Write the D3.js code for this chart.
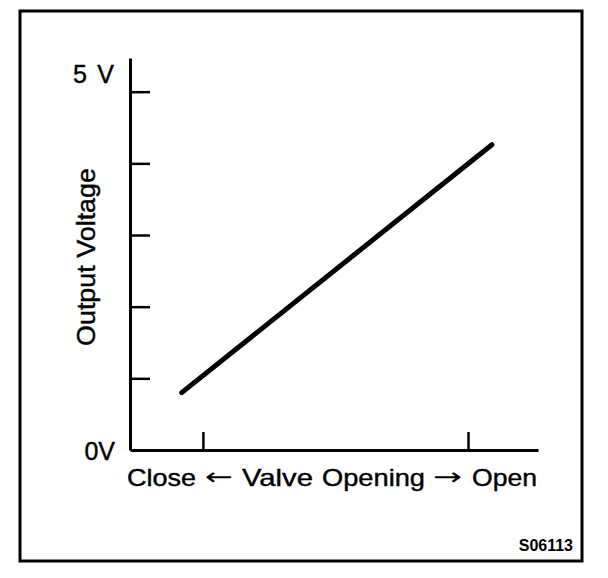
<!DOCTYPE html>
<html>
<head>
<meta charset="utf-8"/>
<title>Output Voltage vs Valve Opening</title>
<script src="https://d3js.org/d3.v7.min.js"></script>
<style>
  body { margin: 0; background: #fff; }
  text { font-family: "Liberation Sans", Arial, sans-serif; fill: #000; }
  .lbl { stroke: #000; stroke-width: 0.4; }
  .arrow { font-family: "DejaVu Sans", sans-serif; }
</style>
</head>
<body>
<div id="chart"></div>
<script>
    // valve opening in %, 0 = fully closed tick, 100 = fully open tick
    var openingPct = [-8, 109];
    var outputVolts = [0.8, 4.26];
    var yTickValues = [1, 2, 3, 4, 5];
    var xTickValues = [0, 100];
    var yEndLabels = ["0V", "5 V"];
    var xLabelParts = ["Close", "\u2190", "Valve", "Opening", "\u2192", "Open"];
    var yLabel = "Output Voltage";
    var figCode = "S06113";

    var W = 608, H = 578;

    var svg = d3.select("#chart")
        .append("svg")
        .attr("width", W)
        .attr("height", H);

    // outer frame
    svg.append("rect")
        .attr("x", 20).attr("y", 11)
        .attr("width", 562).attr("height", 550)
        .attr("fill", "none")
        .attr("stroke", "#000")
        .attr("stroke-width", 3);

    var x = d3.scaleLinear()
        .domain([-27.5, 126.4])
        .range([130, 538]);

    var y = d3.scaleLinear()
        .domain([0, 5.47])
        .range([450, 58]);

    // Y axis (ticks pointing into the plot)
    var yAxis = svg.append("g")
        .attr("transform", "translate(" + x(-27.5) + ",0)")
        .call(d3.axisRight(y).tickValues(yTickValues).tickSize(20).tickSizeOuter(0).tickFormat(""));
    yAxis.select(".domain").attr("stroke-width", 3);
    yAxis.selectAll(".tick line").attr("stroke-width", 2.5);

    // X axis (ticks pointing up)
    var xAxis = svg.append("g")
        .attr("transform", "translate(0," + y(0) + ")")
        .call(d3.axisTop(x).tickValues(xTickValues).tickSize(18).tickSizeOuter(0).tickFormat(""));
    xAxis.select(".domain").attr("stroke-width", 3);
    xAxis.selectAll(".tick line").attr("stroke-width", 2.5);

    // output line
    var pts = openingPct.map(function(d, i) { return [d, outputVolts[i]]; });
    svg.append("path")
        .datum(pts)
        .attr("fill", "none")
        .attr("stroke", "#000")
        .attr("stroke-width", 5)
        .attr("stroke-linecap", "round")
        .attr("d", d3.line()
            .x(function(d) { return x(d[0]); })
            .y(function(d) { return y(d[1]); }));

    // end labels on the voltage axis
    svg.append("text")
        .attr("class", "lbl")
        .attr("x", 115).attr("y", y(0) + 10)
        .attr("text-anchor", "end")
        .attr("font-size", 25)
        .text(yEndLabels[0]);
    svg.append("text")
        .attr("class", "lbl")
        .attr("x", 114).attr("y", y(5.25) + 9)
        .attr("text-anchor", "end")
        .attr("font-size", 25)
        .attr("textLength", 41)
        .attr("lengthAdjust", "spacing")
        .text(yEndLabels[1]);

    // axis titles
    svg.append("text")
        .attr("class", "lbl")
        .attr("transform", "translate(95,257) rotate(-90)")
        .attr("text-anchor", "middle")
        .attr("font-size", 25)
        .attr("textLength", 178)
        .attr("lengthAdjust", "spacingAndGlyphs")
        .text(yLabel);

    // x title laid out word by word, as in the original
    var partX = [127, 205, 242, 322, 433, 472];
    var partW = [69, 28, 71, 103, 29, 65];
    svg.selectAll(".xpart")
        .data(xLabelParts)
        .enter()
        .append("text")
        .attr("class", function(d, i) { return (i == 1 || i == 4) ? "xpart arrow" : "lbl xpart"; })
        .attr("x", function(d, i) { return partX[i]; })
        .attr("y", 486)
        .attr("font-size", 24)
        .attr("textLength", function(d, i) { return partW[i]; })
        .attr("lengthAdjust", "spacingAndGlyphs")
        .attr("dy", function(d, i) { return (i == 1 || i == 4) ? -1 : 0; })
        .text(function(d) { return d; });

    svg.append("text")
        .attr("x", 573).attr("y", 551)
        .attr("text-anchor", "end")
        .attr("font-size", 16)
        .attr("font-weight", "bold")
        .text(figCode);
</script>
</body>
</html>
